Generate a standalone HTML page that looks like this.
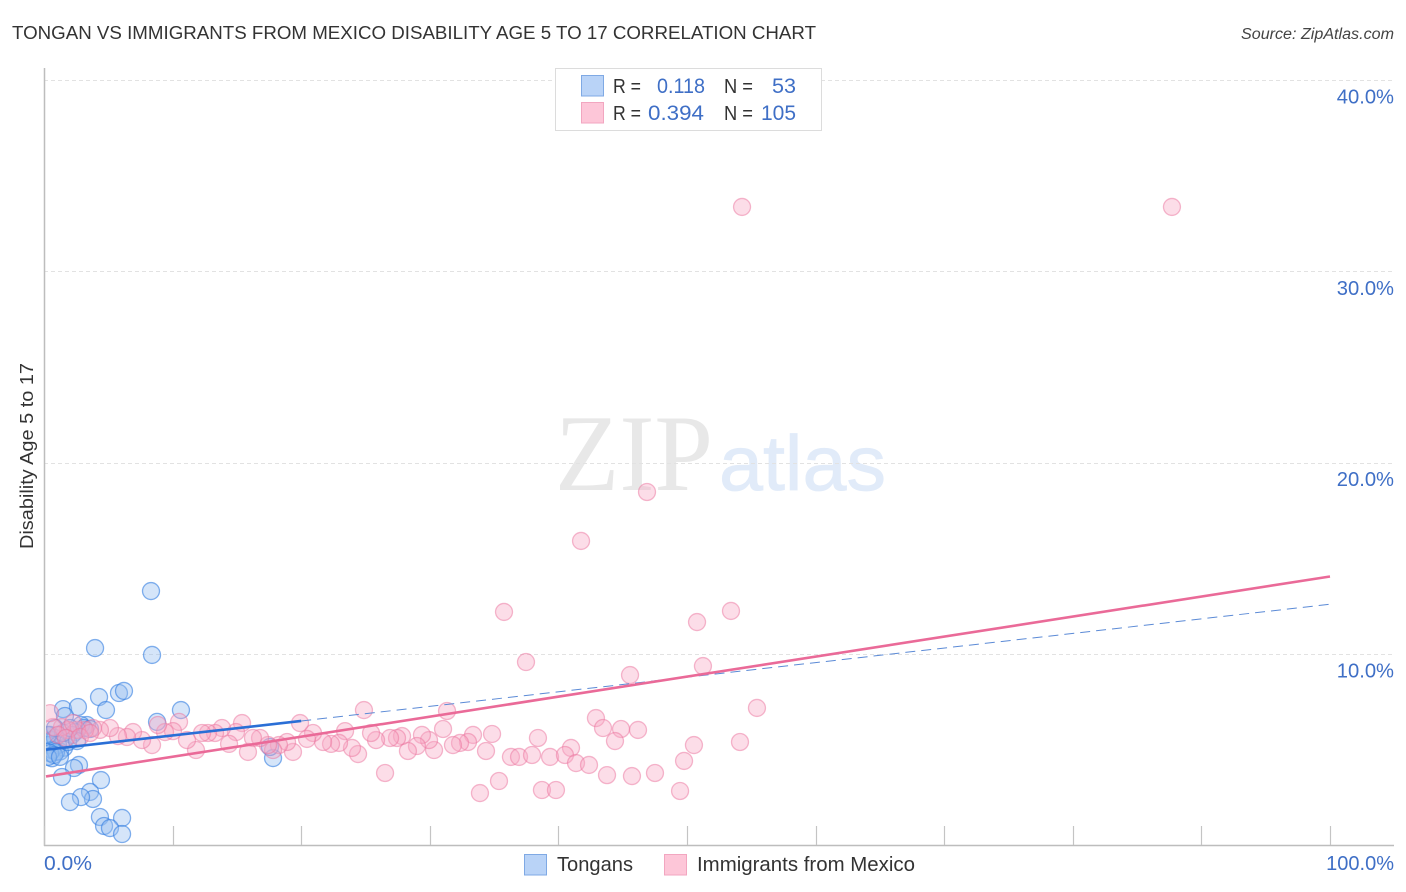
<!DOCTYPE html>
<html lang="en">
<head>
<meta charset="utf-8">
<title>Tongan vs Immigrants from Mexico Disability Age 5 to 17 Correlation Chart</title>
<style>
html,body{margin:0;padding:0;background:#fff;width:1406px;height:892px;overflow:hidden}
svg{display:block;font-family:"Liberation Sans",sans-serif}
#points{filter:blur(0.35px)}
</style>
</head>
<body>
<svg id="chart" width="1406" height="892" viewBox="0 0 1406 892" xmlns="http://www.w3.org/2000/svg">
  <defs><clipPath id="plot-clip"><rect x="46" y="60" width="1360" height="785"/></clipPath></defs>
  <text x="12" y="39" font-size="18.5" fill="#333" textLength="804" lengthAdjust="spacingAndGlyphs">TONGAN VS IMMIGRANTS FROM MEXICO DISABILITY AGE 5 TO 17 CORRELATION CHART</text>
  <text x="1394" y="39" font-size="15.5" font-style="italic" fill="#444" text-anchor="end" textLength="153" lengthAdjust="spacingAndGlyphs">Source: ZipAtlas.com</text>

  <g>
    <text x="555" y="490" font-family="'Liberation Serif',serif" font-size="109" fill="#e8e8e8" textLength="158" lengthAdjust="spacingAndGlyphs">ZIP</text>
    <text x="719" y="490" font-size="78" fill="#e1ebf9" stroke="#e1ebf9" stroke-width="0.8" textLength="167" lengthAdjust="spacingAndGlyphs">atlas</text>
  </g>

  <g id="grid"></g>
  <g id="axes"></g>
  <g id="ylabels"></g>
  <g id="points" clip-path="url(#plot-clip)"></g>
  <g id="trends"></g>

  <text transform="translate(33,456) rotate(-90)" font-size="18.5" fill="#333" text-anchor="middle" textLength="186" lengthAdjust="spacingAndGlyphs">Disability Age 5 to 17</text>
  <text x="44" y="870" font-size="20" fill="#3f6fc6" textLength="48" lengthAdjust="spacingAndGlyphs">0.0%</text>
  <text x="1394" y="870" font-size="20" fill="#3f6fc6" text-anchor="end">100.0%</text>

  <g>
    <rect x="555.5" y="68.5" width="266" height="62" fill="#fff" stroke="#dcdcdc" stroke-width="1"/>
    <rect x="581.5" y="75.5" width="22" height="20.5" fill="#b9d3f7" stroke="#7fa9e4" stroke-width="1"/>
    <rect x="581.5" y="102.5" width="22" height="20.5" fill="#fdc6d8" stroke="#f2a6c0" stroke-width="1"/>
    <text x="613" y="93" font-size="20" fill="#333" textLength="28" lengthAdjust="spacingAndGlyphs">R =</text>
    <text x="657" y="93" font-size="21.5" fill="#3f6fc6" textLength="48" lengthAdjust="spacingAndGlyphs">0.118</text>
    <text x="724" y="93" font-size="20" fill="#333" textLength="29" lengthAdjust="spacingAndGlyphs">N =</text>
    <text x="772" y="93" font-size="21.5" fill="#3f6fc6" textLength="24" lengthAdjust="spacingAndGlyphs">53</text>
    <text x="613" y="120" font-size="20" fill="#333" textLength="28" lengthAdjust="spacingAndGlyphs">R =</text>
    <text x="648" y="120" font-size="21.5" fill="#3f6fc6" textLength="56" lengthAdjust="spacingAndGlyphs">0.394</text>
    <text x="724" y="120" font-size="20" fill="#333" textLength="29" lengthAdjust="spacingAndGlyphs">N =</text>
    <text x="761" y="120" font-size="21.5" fill="#3f6fc6" textLength="35" lengthAdjust="spacingAndGlyphs">105</text>
  </g>

  <g>
    <rect x="524.5" y="854.5" width="22" height="20.5" fill="#b9d3f7" stroke="#7fa9e4" stroke-width="1"/>
    <text x="557" y="871" font-size="20" fill="#333" textLength="76" lengthAdjust="spacingAndGlyphs">Tongans</text>
    <rect x="664.5" y="854.5" width="22" height="20.5" fill="#fdc6d8" stroke="#f2a6c0" stroke-width="1"/>
    <text x="697" y="871" font-size="20" fill="#333" textLength="218" lengthAdjust="spacingAndGlyphs">Immigrants from Mexico</text>
  </g>
</svg>

<script>
const yTicks = [10, 20, 30, 40];
const yTickLabels = ["10.0%", "20.0%", "30.0%", "40.0%"];
const xTicks = [0, 10, 20, 30, 40, 50, 60, 70, 80, 90, 100];

const tongansX = [8.32,3.97,8.40,4.28,5.83,6.22,1.48,2.64,4.82,10.65,8.79,1.63,3.34,2.88,17.81,17.57,2.72,2.33,1.40,4.43,3.58,3.81,2.88,2.02,4.35,6.07,4.67,5.13,6.07,0.47,0.62,0.31,0.86,0.62,1.56,1.24,2.41,3.11,2.18,1.09,0.62,0.93,0.47,0.78,0.31,1.24,1.87,1.48,2.57,0.31,0.86,3.58,2.02];
const tongansY = [13.29,10.31,9.95,7.75,7.96,8.07,7.12,7.23,7.07,7.07,6.45,6.76,6.29,6.29,4.56,5.14,4.20,4.04,3.57,3.41,2.79,2.42,2.52,2.26,1.48,1.43,1.01,0.90,0.59,5.77,5.50,5.24,5.61,4.55,5.10,4.90,5.92,6.13,5.77,5.24,4.98,4.88,4.82,4.72,4.62,4.62,5.40,5.87,5.45,5.77,6.13,6.08,6.13];

const mexicoX = [54.28,87.71,46.89,41.76,35.77,53.42,50.78,37.48,51.24,45.57,55.44,24.88,31.34,42.92,43.47,44.87,46.19,34.84,38.41,44.40,50.54,54.12,40.98,33.36,32.97,32.35,31.80,34.37,36.31,36.94,37.95,39.35,40.51,41.37,42.38,49.77,43.78,45.72,47.51,26.52,35.38,33.90,38.72,39.81,49.46,31.03,30.33,29.94,29.39,29.00,28.30,27.84,27.45,26.91,25.82,25.43,24.42,23.95,23.41,22.94,22.32,21.70,20.92,20.45,19.91,19.36,18.90,18.27,17.81,17.42,16.80,16.25,15.86,15.40,14.93,14.39,13.84,13.30,12.75,12.29,11.82,11.12,10.50,10.03,9.41,8.86,8.40,7.62,6.92,6.45,5.75,5.13,4.35,3.81,3.19,2.57,1.87,1.40,2.26,0.70,0.47,1.09,1.71,2.80,3.58];
const mexicoY = [33.37,33.37,18.47,15.91,12.20,12.25,11.67,9.58,9.37,8.90,7.18,7.07,7.02,6.65,6.13,6.08,6.03,5.82,5.61,5.45,5.24,5.40,5.09,5.77,5.40,5.35,5.24,4.93,4.62,4.62,4.72,4.62,4.72,4.30,4.20,4.41,3.67,3.62,3.78,3.78,3.36,2.73,2.89,2.89,2.84,6.08,4.98,5.50,5.77,5.19,4.93,5.71,5.61,5.61,5.50,5.87,4.77,5.09,5.97,5.35,5.30,5.40,5.87,5.56,6.39,4.88,5.40,5.24,4.98,5.24,5.61,5.61,4.88,6.39,5.92,5.30,6.13,5.87,5.87,5.87,4.98,5.50,6.45,5.97,5.92,6.29,5.24,5.50,5.92,5.66,5.71,6.13,6.03,6.13,6.03,6.03,6.03,6.18,6.39,6.18,6.91,5.77,5.61,5.66,5.87];

const tongansTrendX = [0, 20, 100];
const tongansTrendY = [5.0, 6.5, 12.6];
const mexicoTrendX = [0, 100];
const mexicoTrendY = [3.6, 14.05];

const NS = "http://www.w3.org/2000/svg";
const xScale = v => 44 + v * 12.86;
const yScale = v => 845.3 - v * 19.13;

function make(tag, attrs, parent) {
  const el = document.createElementNS(NS, tag);
  for (const k in attrs) el.setAttribute(k, attrs[k]);
  parent.appendChild(el);
  return el;
}

const grid = document.getElementById("grid");
const axes = document.getElementById("axes");
const ylabels = document.getElementById("ylabels");
const points = document.getElementById("points");
const trends = document.getElementById("trends");

yTicks.forEach((t, i) => {
  const y = Math.round(yScale(t)) + 0.5;
  const line = make("line", {x1: 44, x2: 1394, y1: y, y2: y, stroke: "#e2e2e2", "stroke-width": 1, "stroke-dasharray": "4 3"}, grid);
  
  
  const label = make("text", {x: 1394, y: yScale(t) + 23.5, "font-size": 20.2, fill: "#3f6fc6", "text-anchor": "end"}, ylabels);
  
  
  label.textContent = yTickLabels[i];
});

const yAxis = make("line", {x1: 44.5, x2: 44.5, y1: 68, y2: 846, stroke: "#bdbdbd", "stroke-width": 1.5}, axes);


const xAxis = make("line", {x1: 44, x2: 1394, y1: 845.5, y2: 845.5, stroke: "#bdbdbd", "stroke-width": 1.5}, axes);


xTicks.forEach(t => {
  const x = Math.round(xScale(t)) + 0.5;
  const tick = make("line", {x1: x, x2: x, y1: 826, y2: 845, stroke: "#c4c4c4", "stroke-width": 1.2}, axes);
  
  
});

tongansX.forEach((v, i) => {
  const c = make("circle", {cx: xScale(v), cy: yScale(tongansY[i]), r: 8.5, fill: "rgba(150,190,240,0.4)", stroke: "rgba(50,125,225,0.6)", "stroke-width": 1.3}, points);
  
  
});
mexicoX.forEach((v, i) => {
  const c = make("circle", {cx: xScale(v), cy: yScale(mexicoY[i]), r: 8.5, fill: "rgba(248,165,195,0.38)", stroke: "rgba(235,115,158,0.5)", "stroke-width": 1.3}, points);
  
  
});

const blueDash = make("line", {x1: xScale(tongansTrendX[1]), y1: yScale(tongansTrendY[1]), x2: xScale(tongansTrendX[2]), y2: yScale(tongansTrendY[2]), stroke: "#5b8ad6", "stroke-width": 1, "stroke-dasharray": "10 6"}, trends);


const blueSolid = make("line", {x1: xScale(tongansTrendX[0]) + 2, y1: yScale(tongansTrendY[0]), x2: xScale(tongansTrendX[1]), y2: yScale(tongansTrendY[1]), stroke: "#2a6fd6", "stroke-width": 2.6}, trends);


const pinkLine = make("line", {x1: xScale(mexicoTrendX[0]) + 2, y1: yScale(mexicoTrendY[0]), x2: xScale(mexicoTrendX[1]), y2: yScale(mexicoTrendY[1]), stroke: "#ea6a98", "stroke-width": 2.6}, trends);


</script>
</body>
</html>
